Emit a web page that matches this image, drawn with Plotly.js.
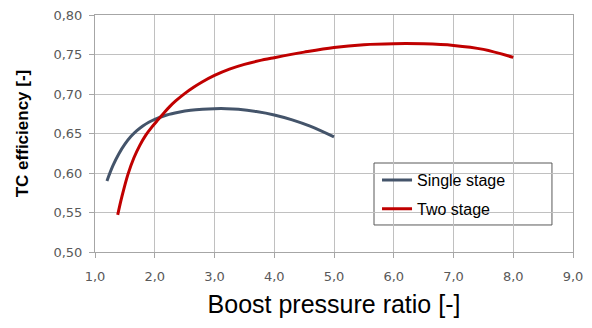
<!DOCTYPE html>
<html>
<head>
<meta charset="utf-8">
<script src="https://cdn.plot.ly/plotly-3.0.1.min.js"></script>
<style>html,body{margin:0;padding:0;background:#fff;}#chart{width:592px;height:328px;}</style>
</head>
<body>
<div id="chart"></div>
<script>
// Single stage
var singleX = [1.2, 1.3, 1.4, 1.5, 1.6, 1.7, 1.8, 1.9, 2.0, 2.2, 2.4, 2.6, 2.8, 3.0, 3.2, 3.4, 3.7, 4.0, 4.3, 4.6, 5.0];
var singleY = [0.590, 0.6093, 0.6245, 0.6366, 0.6461, 0.6536, 0.6596, 0.6643, 0.6680, 0.6735, 0.6770, 0.6795, 0.6808, 0.6814, 0.6814, 0.6806, 0.6778, 0.6735, 0.6673, 0.6593, 0.6457];
// Two stage
var twoX = [1.38, 1.45, 1.55, 1.65, 1.75, 1.85, 1.95, 2.05, 2.15, 2.25, 2.35, 2.5, 2.65, 2.8, 3.0, 3.25, 3.5, 3.75, 4.0, 4.5, 5.0, 5.5, 6.0, 6.5, 7.0, 7.5, 8.0];
var twoY = [0.547, 0.570, 0.598, 0.619, 0.635, 0.648, 0.658, 0.667, 0.6757, 0.6840, 0.6912, 0.7005, 0.7085, 0.7155, 0.7235, 0.7315, 0.7375, 0.7422, 0.7460, 0.7530, 0.7590, 0.7625, 0.7637, 0.7635, 0.7615, 0.7565, 0.7463];
var seriesNames = ["Single stage", "Two stage"];
var xTitle = "Boost pressure ratio [-]";
var yTitle = "TC efficiency [-]";

var traces = [
  {x: singleX, y: singleY, name: seriesNames[0], mode: "lines", legendgroup: "a",
   line: {color: "#44546A", width: 3, shape: "spline", smoothing: 1}},
  {x: twoX, y: twoY, name: seriesNames[1], mode: "lines", legendgroup: "b",
   line: {color: "#C00000", width: 3, shape: "spline", smoothing: 1}}
];

var tickFont = {family: "DejaVu Sans, sans-serif", size: 13, color: "#595959"};
var layout = {
  width: 592, height: 328,
  margin: {l: 95, r: 19, t: 15, b: 76},
  paper_bgcolor: "#ffffff", plot_bgcolor: "#ffffff",
  separators: ", ",
  showlegend: true,
  legend: {
    x: 0.59, y: 0.375, xanchor: "left", yanchor: "top",
    bgcolor: "rgba(0,0,0,0)", borderwidth: 0,
    font: {family: "Liberation Sans, Arial, sans-serif", size: 16, color: "#000000"},
    tracegroupgap: 5, itemwidth: 30
  },
  shapes: [{
    type: "rect", xref: "paper", yref: "paper",
    x0: 0.5837, x1: 0.956, y0: 0.114, y1: 0.3755,
    line: {color: "#595959", width: 1}, fillcolor: "#ffffff", layer: "between"
  }],
  xaxis: {
    range: [1, 9], dtick: 1, tick0: 1, tickformat: ".1f",
    showgrid: true, gridcolor: "#c0c0c0", gridwidth: 1,
    showline: true, linecolor: "#a6a6a6", linewidth: 1, mirror: true,
    ticks: "outside", ticklen: 5, tickcolor: "#a6a6a6",
    tickfont: tickFont, ticklabelstandoff: 7, zeroline: false,
    title: {text: xTitle, font: {family: "Liberation Sans, Arial, sans-serif", size: 25, color: "#000000"}, standoff: 12}
  },
  yaxis: {
    range: [0.5, 0.8], dtick: 0.05, tick0: 0.5, tickformat: ".2f",
    showgrid: true, gridcolor: "#c0c0c0", gridwidth: 1,
    showline: true, linecolor: "#a6a6a6", linewidth: 1, mirror: true,
    ticks: "outside", ticklen: 5, tickcolor: "#a6a6a6",
    tickfont: tickFont, ticklabelstandoff: 4, zeroline: false,
    title: {text: yTitle, font: {family: "Liberation Sans, Arial, sans-serif", size: 17, color: "#000000", weight: "bold"}, standoff: 20}
  }
};
Plotly.newPlot("chart", traces, layout, {displayModeBar: false, staticPlot: true});
</script>
</body>
</html>
